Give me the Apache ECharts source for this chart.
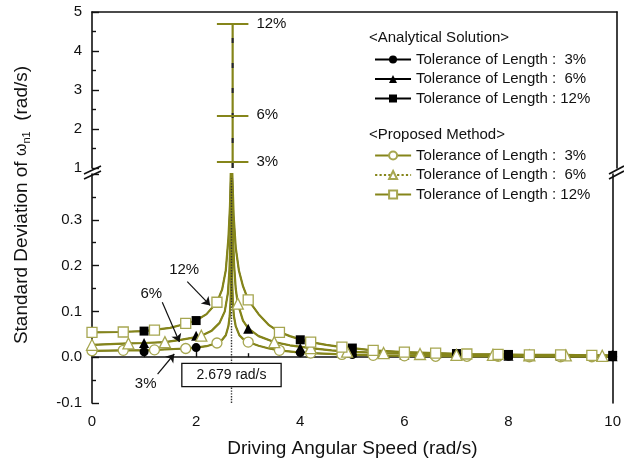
<!DOCTYPE html>
<html><head><meta charset="utf-8">
<script src="https://cdn.jsdelivr.net/npm/echarts@6/dist/echarts.min.js"></script>
<style>html,body{margin:0;padding:0;background:#fff}#c{width:624px;height:467px}</style>
</head><body><div id="c"></div>
<script>
// ---- data ----
const curve3 = [[0,0.014],[0.6,0.015],[1,0.015],[1.2,0.016],[1.8,0.019],[2,0.021],[2.2,0.024],[2.4,0.031],[2.5,0.038],[2.57,0.048],[2.62,0.068],[2.645,0.09],[2.66,0.12],[2.67,0.17],[2.675,0.25],[2.678,0.5],[2.681,0.5],[2.685,0.25],[2.692,0.17],[2.705,0.12],[2.725,0.09],[2.76,0.068],[2.83,0.048],[2.9,0.04],[3,0.033],[3.2,0.025],[3.4,0.019],[3.6,0.015],[4,0.01],[4.2,0.009],[4.8,0.006],[5.4,0.004],[6,0.003],[7,0.002],[8,0.002],[9,0.001],[10,0.001]];
const curve6 = [[0,0.027],[0.7,0.03],[1,0.031],[1.4,0.033],[1.7,0.038],[2,0.044],[2.1,0.047],[2.3,0.058],[2.45,0.075],[2.55,0.1],[2.61,0.14],[2.64,0.19],[2.66,0.27],[2.67,0.35],[2.676,0.5],[2.682,0.5],[2.69,0.36],[2.705,0.27],[2.73,0.2],[2.76,0.15],[2.8,0.117],[2.9,0.08],[3,0.063],[3.2,0.046],[3.5,0.033],[3.8,0.026],[4.2,0.02],[4.6,0.015],[4.9,0.012],[5.6,0.009],[6.3,0.007],[7,0.005],[7.7,0.005],[8.4,0.004],[9.1,0.004],[9.8,0.003],[10,0.003]];
const curve12 = [[0,0.054],[0.5,0.055],[1,0.057],[1.5,0.064],[1.8,0.073],[2,0.08],[2.2,0.094],[2.4,0.12],[2.5,0.148],[2.57,0.19],[2.62,0.26],[2.65,0.33],[2.665,0.4],[2.675,0.5],[2.683,0.5],[2.695,0.4],[2.72,0.31],[2.76,0.24],[2.82,0.19],[2.9,0.155],[3,0.125],[3.2,0.094],[3.4,0.07],[3.6,0.055],[3.8,0.046],[4,0.039],[4.2,0.033],[4.5,0.027],[4.8,0.022],[5,0.02],[5.4,0.015],[6,0.011],[6.6,0.009],[7.2,0.007],[7.8,0.006],[8.4,0.005],[9,0.005],[9.6,0.004],[10,0.004]];

const propX36 = [0,0.6,1.2,1.8,2.4,3.0,3.6,4.2,4.8,5.4,6.0,6.6,7.2,7.8,8.4,9.0,9.6];
const prop3 =  [0.014,0.015,0.016,0.019,0.031,0.033,0.015,0.009,0.006,0.004,0.003,0.002,0.002,0.002,0.001,0.001,0.001];
const prop12 = [0.054,0.055,0.059,0.074,0.12,0.125,0.054,0.033,0.022,0.015,0.011,0.009,0.007,0.006,0.005,0.005,0.004];
const propX6 = [0,0.7,1.4,2.1,2.8,3.5,4.2,4.9,5.6,6.3,7.0,7.7,8.4,9.1,9.8];
const prop6 =  [0.027,0.03,0.033,0.047,0.117,0.033,0.02,0.012,0.009,0.007,0.005,0.005,0.004,0.004,0.003];

const anaX = [1,2,3,4,5,6,7,8,9,10];
const ana3 =  [0.012,0.021,0.033,0.01,0.006,0.003,0.002,0.002,0.001,0.001];
const ana6 =  [0.031,0.047,0.062,0.02,0.011,0.006,0.004,0.003,0.003,0.002];
const ana12 = [0.057,0.08,0.125,0.038,0.02,0.011,0.008,0.006,0.005,0.004];

const peakX = 2.679;
const peakTol = ['3%','6%','12%'];
const peakStd = [1.17, 2.35, 4.7];

const annotText = ['12%','6%','3%'];
const annotPos  = [[1.77,0.191],[1.14,0.139],[1.03,-0.059]];
const arrowFrom = [[1.83,0.165],[1.35,0.12],[1.26,-0.037]];
const arrowTo   = [[2.27,0.113],[1.68,0.033],[1.58,0.007]];
const boxPos = [2.679, -0.039];

const legendLabels = {A3:'Tolerance of Length :  3%',A6:'Tolerance of Length :  6%',A12:'Tolerance of Length : 12%',
                      P3:'Tolerance of Length :  3%',P6:'Tolerance of Length :  6%',P12:'Tolerance of Length : 12%'};

// ---- styles ----
const OLIVE = '#85851a';
const OLIVE_M = '#a6a650';
const FONT = 'Arial, "Liberation Sans", sans-serif';
const zip = (xs, ys) => xs.map((x,i)=>[x, ys[i]]);

const chart = echarts.init(document.getElementById('c'), null, {renderer:'canvas'});
const axLine = {show:true, lineStyle:{color:'#111', width:1.6}};
const lbl = {color:'#111', fontSize:15, fontFamily:FONT};

function anaLine(name, data, sym){
  return {name, type:'line', xAxisIndex:1, yAxisIndex:2, data, showSymbol:false, symbol:sym, symbolSize:9,
    itemStyle:{color:'#000'}, lineStyle:{color:'#000', width:1.2}, z:2, silent:true};
}
function propLine(name, data, sym, size){
  return {name, type:'line', xAxisIndex:1, yAxisIndex:2, data, showSymbol:false, symbol:sym, symbolSize:size,
    itemStyle:{color:'#fff', borderColor:OLIVE_M, borderWidth:1.2}, lineStyle:{color:OLIVE, width:2.2}, z:3, silent:true};
}
function anaMarks(name, data, sym, size){
  return {name, type:'scatter', xAxisIndex:1, yAxisIndex:2, data, symbol:sym, symbolSize:size,
    itemStyle:{color:'#000', opacity:1}, z:4, silent:true};
}
function propMarks(name, data, sym, size){
  return {name, type:'scatter', xAxisIndex:1, yAxisIndex:2, data, symbol:sym, symbolSize:size,
    itemStyle:{color:'#fff', borderColor:OLIVE_M, borderWidth:1.3, opacity:1}, z:5, silent:true};
}
const txt = (t) => ({show:true, position:'inside', formatter:t, color:'#111', fontSize:15, fontFamily:FONT});

const option = {
  animation:false,
  grid:[
    {left:92, right:7, top:12, height:156},
    {left:92, right:7, top:174, height:229}
  ],
  xAxis:[
    {gridIndex:0, type:'value', min:0, max:10, position:'top', axisLine:axLine, axisTick:{show:false}, axisLabel:{show:false}, splitLine:{show:false}},
    {gridIndex:1, type:'value', min:0, max:10, interval:2, position:'bottom', axisLine:axLine,
     axisTick:{show:true, inside:true, length:7, lineStyle:{color:'#111', width:1.4}},
     minorTick:{show:true, splitNumber:2, length:4, lineStyle:{color:'#111', width:1.4}},
     axisLabel:Object.assign({margin:11}, lbl), splitLine:{show:false},
     name:'Driving Angular Speed (rad/s)', nameLocation:'middle', nameGap:36,
     nameTextStyle:{color:'#111', fontSize:19, fontFamily:FONT}}
  ],
  yAxis:[
    {gridIndex:0, type:'value', min:1, max:5, interval:1, axisLine:axLine,
     axisTick:{show:true, inside:true, length:7, lineStyle:{color:'#111', width:1.4}},
     minorTick:{show:true, splitNumber:2, length:4, lineStyle:{color:'#111', width:1.4}},
     axisLabel:Object.assign({margin:10}, lbl), splitLine:{show:false}},
    {gridIndex:0, type:'value', min:1, max:5, position:'right', axisLine:axLine, axisTick:{show:false}, axisLabel:{show:false}, splitLine:{show:false}},
    {gridIndex:1, type:'value', min:-0.1, max:0.4, interval:0.1, axisLine:axLine,
     axisTick:{show:true, inside:true, length:7, lineStyle:{color:'#111', width:1.4}},
     minorTick:{show:true, splitNumber:2, length:4, lineStyle:{color:'#111', width:1.4}},
     axisLabel:Object.assign({margin:10, formatter:v => v > 0.35 ? '' : v.toFixed(1)}, lbl), splitLine:{show:false}},
    {gridIndex:1, type:'value', min:-0.1, max:0.4, position:'right', axisLine:axLine, axisTick:{show:false}, axisLabel:{show:false}, splitLine:{show:false}}
  ],
  legend:[
    {data:['A3','A6','A12'], orient:'vertical', left:369, top:46, itemWidth:36, itemHeight:10, itemGap:2.5,
     selectedMode:false, formatter:n=>legendLabels[n], textStyle:{color:'#111', fontSize:15, lineHeight:17, fontFamily:FONT}},
    {data:['P3',{name:'P6', lineStyle:{type:'dotted', width:2.2}},'P12'], orient:'vertical', left:369, top:142, itemWidth:36, itemHeight:10, itemGap:2.5,
     selectedMode:false, formatter:n=>legendLabels[n], textStyle:{color:'#111', fontSize:15, lineHeight:17, fontFamily:FONT}}
  ],
  graphic:[
    {type:'text', left:369, top:30, style:{text:'<Analytical Solution>', fill:'#111', font:'15px '+FONT}},
    {type:'text', left:369, top:127, style:{text:'<Proposed Method>', fill:'#111', font:'15px '+FONT}},
    {type:'text', x:22, y:205, rotation:Math.PI/2, style:{
      text:'{a|Standard Deviation of }{w|ω}{s|n1}{a|  (rad/s)}', align:'center', verticalAlign:'middle',
      rich:{a:{fontSize:19, fontFamily:FONT, fill:'#111'}, w:{fontSize:16, fontFamily:FONT, fill:'#111'},
            s:{fontSize:11, fontFamily:FONT, fill:'#111', padding:[9,0,0,0]}}}},
    // axis break marks
    {type:'line', shape:{x1:84, y1:174, x2:101, y2:166}, style:{stroke:'#111', lineWidth:1.6}},
    {type:'line', shape:{x1:84, y1:179, x2:101, y2:171}, style:{stroke:'#111', lineWidth:1.6}},
    {type:'line', shape:{x1:609, y1:174, x2:624, y2:166}, style:{stroke:'#111', lineWidth:1.6}},
    {type:'line', shape:{x1:609, y1:179, x2:624, y2:171}, style:{stroke:'#111', lineWidth:1.6}}
  ],
  series:[
    // upper segment: peak values
    {name:'peakBar', type:'line', xAxisIndex:0, yAxisIndex:0, data:[[peakX,1],[peakX,peakStd[2]]], showSymbol:false,
     lineStyle:{color:OLIVE, width:2.2}, z:3, silent:true,
     markLine:{silent:true, symbol:['none','none'], animation:false,
       lineStyle:{color:OLIVE, width:2.2, type:'solid'},
       label:{show:true, position:'end', distance:8, formatter:'{b}', color:'#111', fontSize:15, fontFamily:FONT},
       data: peakStd.map((v,i)=>[{coord:[peakX-0.3, v], name:peakTol[i]},{coord:[peakX+0.3, v]}])}},
    {name:'peakAna', type:'line', xAxisIndex:0, yAxisIndex:0, data:[[peakX,1],[peakX,peakStd[2]]], showSymbol:false,
     lineStyle:{color:'#223', width:2, type:[5,20]}, z:4, silent:true},
    // lower segment
    {name:'vline', type:'scatter', xAxisIndex:1, yAxisIndex:2, data:[], z:1, silent:true,
     markLine:{silent:true, symbol:['none','none'], label:{show:false}, lineStyle:{color:'#333', width:1.4, type:'dotted'},
       data:[[{coord:[peakX,-0.1]},{coord:[peakX,0.39]}]]}},
    anaLine('A3', curve3, 'circle'),
    anaLine('A6', curve6, 'triangle'),
    anaLine('A12', curve12, 'rect'),
    propLine('P3', curve3, 'circle', 9),
    propLine('P6', curve6, 'triangle', 10),
    propLine('P12', curve12, 'rect', 9),
    anaMarks('A3m', zip(anaX, ana3), 'circle', 9),
    anaMarks('A6m', zip(anaX, ana6), 'triangle', 10),
    anaMarks('A12m', zip(anaX, ana12), 'rect', 9),
    propMarks('P3m', zip(propX36, prop3), 'circle', 10),
    propMarks('P6m', zip(propX6, prop6), 'triangle', 11),
    propMarks('P12m', zip(propX36, prop12), 'rect', 10),
    {name:'annot', type:'scatter', xAxisIndex:1, yAxisIndex:2, data:[], z:10, silent:true,
     markLine:{silent:true, symbol:['none','arrow'], symbolSize:8, label:{show:false},
       lineStyle:{color:'#111', width:1.2, type:'solid'},
       data: arrowFrom.map((f,i)=>[{coord:f},{coord:arrowTo[i]}])},
     markPoint:{silent:true, data:[
       ...annotText.map((t,i)=>({coord:annotPos[i], symbol:'rect', symbolSize:[1,1], itemStyle:{color:'rgba(0,0,0,0)'}, label:txt(t)})),
       {coord:boxPos, symbol:'rect', symbolSize:[1,1], itemStyle:{color:'rgba(0,0,0,0)'},
        label:{show:true, position:'inside', formatter:peakX.toFixed(3)+' rad/s', color:'#111', fontSize:14, fontFamily:FONT,
               backgroundColor:'#fff', borderColor:'#111', borderWidth:1.3, width:98, height:22, lineHeight:22, align:'center',
               padding:[0,0,0,0]}}
     ]}}
  ]
};
chart.setOption(option);
</script>
</body></html>
